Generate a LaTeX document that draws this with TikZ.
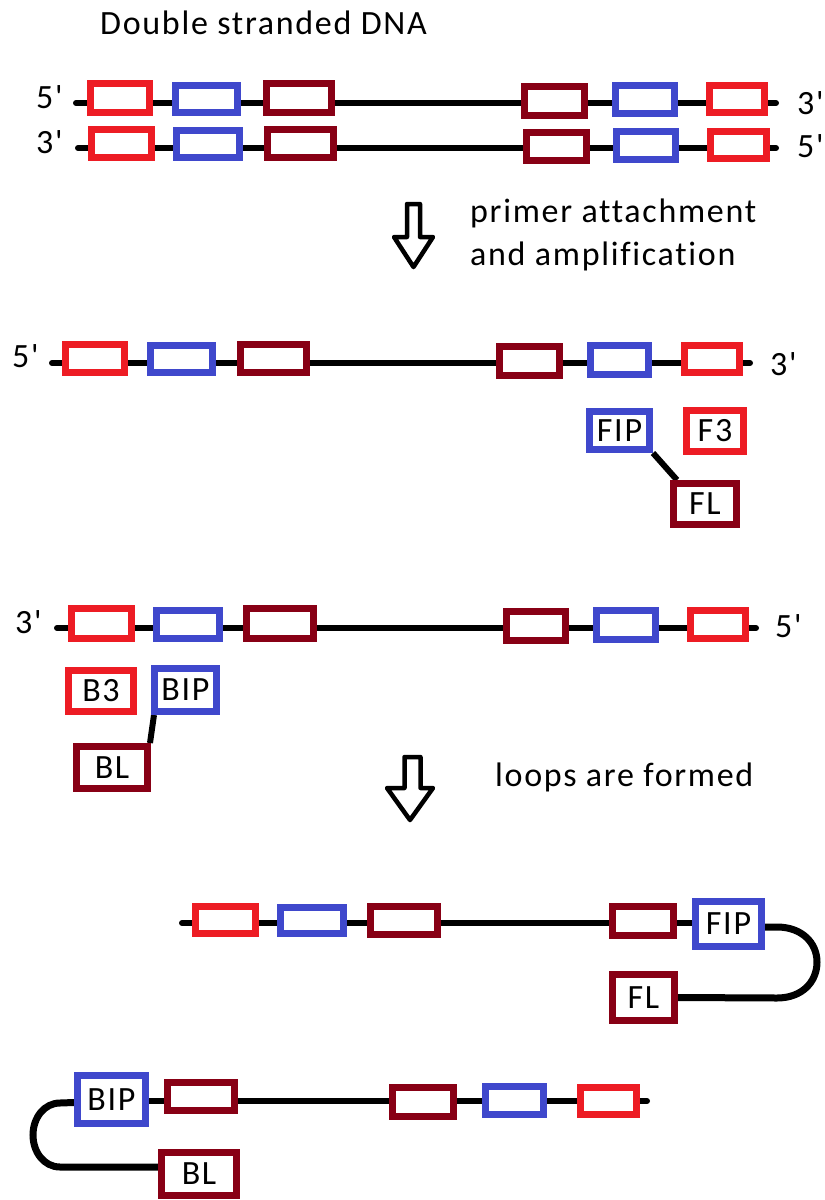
\documentclass[tikz,border=0pt]{standalone}
\usepackage{fontspec}
\setmainfont{Carlito}
\newfontfamily\lblfont[LetterSpace=5,Ligatures=NoCommon]{Carlito}
\usetikzlibrary{backgrounds,calc}
\definecolor{pred}{RGB}{237,28,36}
\definecolor{pblue}{RGB}{63,72,204}
\definecolor{pdark}{RGB}{136,0,21}
\newcommand{\pr}{\char39}
\tikzset{
 seg/.style={draw, line width=7pt, fill=white, inner sep=0pt, rectangle, font=\lblfont\fontsize{34}{38}\selectfont},
 rseg/.style={seg, draw=pred},
 bseg/.style={seg, draw=pblue},
 dseg/.style={seg, draw=pdark},
 strand/.style={line width=6pt, line cap=round},
 lbl/.style={inner sep=0pt, font=\lblfont\fontsize{34}{40}\selectfont},
 bigarrow/.style={line width=4.5pt, line join=round, fill=white},
 tether/.style={line width=6pt},
 loopline/.style={line width=7pt}
}
\newcommand{\sg}[7]{\node[#1, minimum width=#5pt, minimum height=#6pt] (#2) at (#3,#4) {#7};}
\begin{document}
\begin{tikzpicture}[x=1pt,y=-1pt]
\useasboundingbox (0,0) rectangle (825,1200);
\begin{scope}[on background layer]
\fill[white] (0,0) rectangle (825,1200);
\end{scope}

% title
\node[lbl, anchor=base west] (title) at (100,34) {Double stranded DNA};

% strand 1
\sg{rseg}{a1}{120}{98}{59}{29}{}
\sg{bseg}{a2}{206.5}{99}{62}{27}{}
\sg{dseg}{a3}{299}{98}{65}{29}{}
\sg{dseg}{a4}{554.5}{101}{60}{29}{}
\sg{bseg}{a5}{645}{99.5}{59}{28}{}
\sg{rseg}{a6}{737}{99}{55}{27}{}
\coordinate (s1a) at (76,103);
\coordinate (s1b) at (776,103);
\node[lbl, anchor=base west] (l1a) at (36,108) {5\pr};
\node[lbl, anchor=base west] (l1b) at (797,114) {3\pr};

% strand 2
\sg{rseg}{b1}{121.5}{143.5}{60}{28}{}
\sg{bseg}{b2}{208}{144}{63}{27}{}
\sg{dseg}{b3}{300.5}{143.5}{66}{28}{}
\sg{dseg}{b4}{556.5}{146.5}{60}{28}{}
\sg{bseg}{b5}{646}{145.5}{59}{28}{}
\sg{rseg}{b6}{738.5}{145}{56}{27}{}
\coordinate (s2a) at (78,148);
\coordinate (s2b) at (776,148);
\node[lbl, anchor=base west] (l2a) at (36,153) {3\pr};
\node[lbl, anchor=base west] (l2b) at (797,157) {5\pr};

% arrow 1
\draw[bigarrow] (407,204) -- (420,204) -- (420,237) -- (433,237) -- (413.5,267) -- (394,237) -- (407,237) -- cycle;
\node[lbl, anchor=base west] (t1) at (470,222) {primer attachment};
\node[lbl, anchor=base west] (t2) at (470,265) {and amplification};

% strand 3
\sg{rseg}{c1}{95}{358.5}{59}{28}{}
\sg{bseg}{c2}{181.5}{359}{62}{27}{}
\sg{dseg}{c3}{273.5}{358.5}{66}{28}{}
\sg{dseg}{c4}{529.5}{361}{60}{29}{}
\sg{bseg}{c5}{619.5}{360}{58}{29}{}
\sg{rseg}{c6}{712}{359}{55}{27}{}
\coordinate (s3a) at (52,363);
\coordinate (s3b) at (750,363);
\node[lbl, anchor=base west] (l3a) at (12,367) {5\pr};
\node[lbl, anchor=base west] (l3b) at (770,375) {3\pr};
\sg{bseg}{fip3}{619.5}{430.5}{60}{38}{FIP}
\sg{rseg}{f33}{715}{431}{57}{41}{F3}
\sg{dseg}{fl3}{705}{504}{63}{41}{FL}

% strand 4
\sg{rseg}{d1}{101.5}{623.5}{60}{30}{}
\sg{bseg}{d2}{188}{624.5}{63}{28}{}
\sg{dseg}{d3}{280}{623.5}{67}{30}{}
\sg{dseg}{d4}{536}{626}{59}{29}{}
\sg{bseg}{d5}{626}{625}{59}{29}{}
\sg{rseg}{d6}{718}{624.5}{55}{28}{}
\coordinate (s4a) at (57,628);
\coordinate (s4b) at (756,628);
\node[lbl, anchor=base west] (l4a) at (15,633) {3\pr};
\node[lbl, anchor=base west] (l4b) at (775,637) {5\pr};
\sg{rseg}{b34}{101}{691}{65}{41}{B3}
\sg{bseg}{bip4}{185.5}{690}{62}{43}{BIP}
\sg{dseg}{bl4}{112}{767.5}{71}{42}{BL}

% arrow 2
\draw[bigarrow] (404.5,757) -- (420.5,757) -- (420.5,788) -- (433,788) -- (410,820) -- (387,788) -- (404.5,788) -- cycle;
\node[lbl, anchor=base west] (t3) at (495,786) {loops are formed};

% strand 5
\sg{rseg}{e1}{225.5}{920}{60}{27}{}
\sg{bseg}{e2}{312}{920.5}{63}{26}{}
\sg{dseg}{e3}{404}{920.5}{67}{28}{}
\sg{dseg}{e4}{643}{921}{61}{29}{}
\sg{bseg}{fip5}{728.5}{924}{66}{45}{FIP}
\sg{dseg}{fl5}{643.5}{997.5}{62}{46}{FL}
\coordinate (s5a) at (182,923);

% strand 6
\sg{bseg}{bip6}{111.5}{1099.5}{68}{48}{BIP}
\sg{dseg}{f1}{201}{1096.5}{67}{28}{}
\sg{dseg}{f2}{423}{1102}{61}{29}{}
\sg{bseg}{f3}{514.5}{1100.5}{58}{28}{}
\sg{rseg}{f4}{608.5}{1101}{56}{27}{}
\sg{dseg}{bl6}{199}{1174}{75}{43}{BL}
\coordinate (s6b) at (647,1101);

\begin{scope}[on background layer]
\draw[strand] (s1a) -- (s1b);
\draw[strand] (s2a) -- (s2b);
\draw[strand] (s3a) -- (s3b);
\draw[strand] (s4a) -- (s4b);
\draw[strand] (s5a) -- (s5a -| fip5.west);
\draw[strand] (s6b) -- (s6b -| bip6.east);
\draw[tether] (fip3.south east) -- ($(fl3.north west)!0.1!(fl3.north east)$);
\draw[tether] ($(bip4.south west)+(3,0)$) -- ($(bl4.north east)+(-1,0)$);
\draw[loopline] ($(fip5.east)+(0,3)$) -- (777,927) .. controls (802,927) and (817,943) .. (817,962) .. controls (817,982) and (802,998) .. (777,998) -- (fl5.east);
\draw[loopline] ($(bip6.west)+(0,3)$) -- (60,1103) .. controls (44,1103) and (33,1118) .. (33,1135) .. controls (33,1152) and (44,1167) .. (60,1167) -- ($(bl6.west)+(0,-7)$);
\end{scope}
\end{tikzpicture}
\end{document}
